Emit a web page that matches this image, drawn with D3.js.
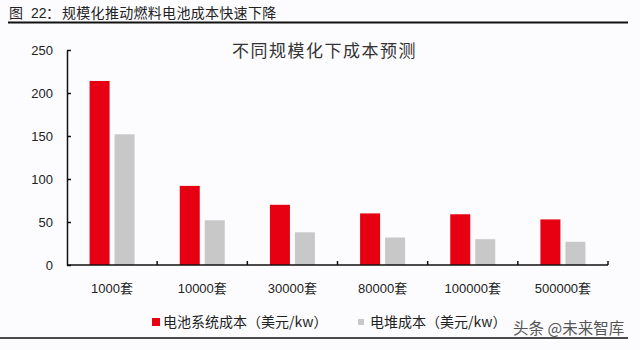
<!DOCTYPE html>
<html>
<head>
<meta charset="utf-8">
<script src="https://cdn.jsdelivr.net/npm/d3@7"></script>
<style>
  html, body { margin: 0; padding: 0; background: #fcfcfe; }
  svg { display: block; }
  text { font-family: "Liberation Sans", "Noto Sans CJK SC", sans-serif; }
  .cjk { font-family: "Noto Sans CJK SC", "Liberation Sans", sans-serif; }
</style>
</head>
<body>
<svg id="chart" width="640" height="350"></svg>
<script>
// Categories: production scale (sets)
const categories = ["1000套", "10000套", "30000套", "80000套", "100000套", "500000套"];
// Battery system cost (USD/kW)
const systemCost = [214, 92, 70, 60, 59, 53];
// Stack cost (USD/kW)
const stackCost = [152, 52, 38, 32, 30, 27];
// Y axis ticks
const yTicks = [0, 50, 100, 150, 200, 250];
const seriesNames = ["电池系统成本（美元/kw）", "电堆成本（美元/kw）"];
const seriesColors = ["#e60012", "#c8c8c8"];

const svg = d3.select("#chart");

// Header caption and rules
const cap = svg.append("text")
  .attr("class", "cjk")
  .attr("y", 18)
  .attr("font-size", 14)
  .attr("fill", "#222");
cap.append("tspan").attr("x", 9).text("图");
cap.append("tspan").attr("x", 31).attr("font-family", "Liberation Sans, sans-serif").text("22");
cap.append("tspan").attr("x", 46).text("：");
cap.append("tspan").attr("x", 62).attr("letter-spacing", 0.3).text("规模化推动燃料电池成本快速下降");
svg.append("line")
  .attr("x1", 8).attr("x2", 628).attr("y1", 22.5).attr("y2", 22.5)
  .attr("stroke", "#111").attr("stroke-width", 2);
svg.append("line")
  .attr("x1", 0).attr("x2", 628).attr("y1", 338).attr("y2", 338)
  .attr("stroke", "#111").attr("stroke-width", 1.5);

// Chart title
svg.append("text")
  .attr("class", "cjk")
  .attr("x", 232).attr("y", 57)
  .attr("font-size", 17)
  .attr("letter-spacing", 1.5)
  .attr("fill", "#333")
  .text("不同规模化下成本预测");

// Scales
const plot = { left: 67, right: 608, top: 50, bottom: 265 };
const x = d3.scaleBand().domain(categories).range([plot.left, plot.right]).paddingInner(0).paddingOuter(0);
const y = d3.scaleLinear().domain([0, 250]).range([plot.bottom, plot.top]);

const barW = 20, gap = 5;
const groupOffset = (x.bandwidth() - (2 * barW + gap)) / 2;

// Bars
const series = [systemCost, stackCost];
series.forEach((vals, si) => {
  svg.append("g").selectAll("rect")
    .data(vals)
    .join("rect")
    .attr("x", (d, i) => x(categories[i]) + groupOffset + si * (barW + gap))
    .attr("y", d => y(d))
    .attr("width", barW)
    .attr("height", d => y(0) - y(d))
    .attr("fill", seriesColors[si]);
});

// Y axis
const yAxis = d3.axisLeft(y).tickValues(yTicks).tickSizeInner(-4).tickSizeOuter(0).tickPadding(14);
const gy = svg.append("g").attr("transform", `translate(${plot.left},0)`).call(yAxis);
gy.select(".domain").attr("stroke", "#111").attr("stroke-width", 1.5);
gy.selectAll(".tick line").attr("stroke", "#111").attr("stroke-width", 1.5);
gy.selectAll(".tick text").attr("font-size", 13).attr("fill", "#222")
  .attr("font-family", "Liberation Sans, sans-serif");

// X axis with ticks on band boundaries
const gx = svg.append("g").attr("transform", `translate(0,${plot.bottom})`);
gx.append("line")
  .attr("x1", plot.left).attr("x2", plot.right)
  .attr("stroke", "#111").attr("stroke-width", 1.5);
gx.selectAll("line.bt")
  .data(categories.slice(1).map(c => x(c)).concat([plot.right]))
  .join("line").attr("class", "bt")
  .attr("x1", d => d).attr("x2", d => d).attr("y1", 0).attr("y2", -4)
  .attr("stroke", "#111").attr("stroke-width", 1.5);
gx.selectAll("text")
  .data(categories)
  .join("text")
  .attr("x", d => x(d) + x.bandwidth() / 2)
  .attr("y", 28)
  .attr("text-anchor", "middle")
  .attr("font-size", 13)
  .attr("fill", "#222")
  .text(d => d);

// Legend
const legend = [
  { name: seriesNames[0], color: seriesColors[0], mx: 152, ms: 8, tx: 163 },
  { name: seriesNames[1], color: seriesColors[1], mx: 358, ms: 6, tx: 370 }
];
const lg = svg.append("g");
legend.forEach(l => {
  lg.append("rect")
    .attr("x", l.mx).attr("y", 322 - l.ms / 2)
    .attr("width", l.ms).attr("height", l.ms)
    .attr("fill", l.color);
  lg.append("text")
    .attr("class", "cjk")
    .attr("x", l.tx).attr("y", 327)
    .attr("font-size", 14)
    .attr("fill", "#222")
    .text(l.name);
});

// Source mark
svg.append("text")
  .attr("class", "cjk")
  .attr("x", 513).attr("y", 334)
  .attr("font-size", 15.5)
  .attr("fill", "#555")
  .text("头条 @未来智库");
</script>
</body>
</html>
